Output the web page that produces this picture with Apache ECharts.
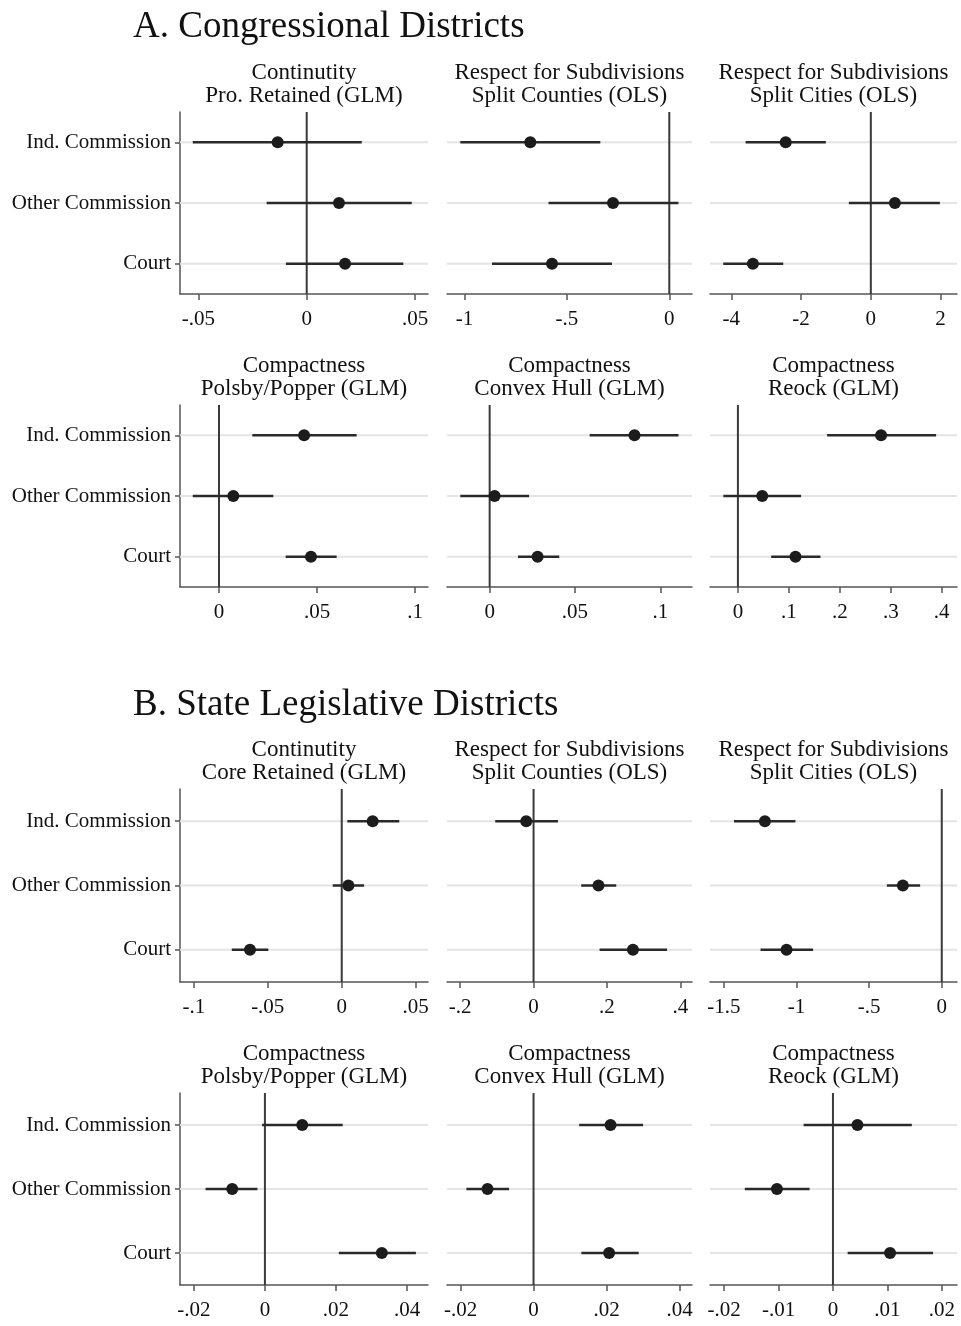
<!DOCTYPE html>
<html><head><meta charset="utf-8">
<script src="https://cdn.jsdelivr.net/npm/echarts@6/dist/echarts.min.js"></script>
<style>html,body{margin:0;padding:0;background:#fff}#c{width:961px;height:1326px}</style>
</head><body><div id="c"></div>
<script>
// ---------- data ----------
const categories = ['Ind. Commission', 'Other Commission', 'Court'];
const sectionTitles = ['A. Congressional Districts', 'B. State Legislative Districts'];

// A. Congressional districts  (order: Ind., Other, Court)
const aContEst = [-0.0134, 0.0149, 0.0177];
const aContLo  = [-0.0526, -0.0185, -0.0096];
const aContHi  = [0.0254, 0.0485, 0.0446];
const aCountyEst = [-0.679, -0.275, -0.573];
const aCountyLo  = [-1.021, -0.590, -0.866];
const aCountyHi  = [-0.337, 0.045, -0.280];
const aCityEst = [-2.44, 0.69, -3.38];
const aCityLo  = [-3.59, -0.63, -4.23];
const aCityHi  = [-1.29, 1.98, -2.51];
const aPolsbyEst = [0.0434, 0.0073, 0.0469];
const aPolsbyLo  = [0.0170, -0.0134, 0.0340];
const aPolsbyHi  = [0.0702, 0.0277, 0.0600];
const aHullEst = [0.0849, 0.0029, 0.0281];
const aHullLo  = [0.0586, -0.0172, 0.0166];
const aHullHi  = [0.1107, 0.0231, 0.0408];
const aReockEst = [0.281, 0.0477, 0.113];
const aReockLo  = [0.175, -0.0286, 0.0653];
const aReockHi  = [0.389, 0.124, 0.162];

// B. State legislative districts
const bContEst = [0.0209, 0.0045, -0.0620];
const bContLo  = [0.0038, -0.0061, -0.0743];
const bContHi  = [0.0389, 0.0151, -0.0496];
const bCountyEst = [-0.020, 0.177, 0.271];
const bCountyLo  = [-0.1045, 0.130, 0.180];
const bCountyHi  = [0.0665, 0.2255, 0.364];
const bCityEst = [-1.218, -0.268, -1.069];
const bCityLo  = [-1.431, -0.378, -1.248];
const bCityHi  = [-1.008, -0.149, -0.886];
const bPolsbyEst = [0.0105, -0.0092, 0.0329];
const bPolsbyLo  = [-0.0008, -0.0167, 0.0208];
const bPolsbyHi  = [0.0219, -0.0021, 0.0425];
const bHullEst = [0.0211, -0.0126, 0.0207];
const bHullLo  = [0.0125, -0.0184, 0.0131];
const bHullHi  = [0.0300, -0.0067, 0.0288];
const bReockEst = [0.0045, -0.0103, 0.0105];
const bReockLo  = [-0.0054, -0.0162, 0.0027];
const bReockHi  = [0.0145, -0.0043, 0.0184];

// tick values
const ticksAcont = [-0.05, 0, 0.05];
const ticksAcounty = [-1, -0.5, 0];
const ticksAcity = [-4, -2, 0, 2];
const ticksApolsby = [0, 0.05, 0.1];
const ticksAhull = [0, 0.05, 0.1];
const ticksAreock = [0, 0.1, 0.2, 0.3, 0.4];
const ticksBcont = [-0.1, -0.05, 0, 0.05];
const ticksBcounty = [-0.2, 0, 0.2, 0.4];
const ticksBcity = [-1.5, -1, -0.5, 0];
const ticksBpolsby = [-0.02, 0, 0.02, 0.04];
const ticksBhull = [-0.02, 0, 0.02, 0.04];
const ticksBreock = [-0.02, -0.01, 0, 0.01, 0.02];

// axis ranges
const rangeAcont = [-0.0585, 0.056];
const rangeAcounty = [-1.086, 0.111];
const rangeAcity = [-4.61, 2.47];
const rangeApolsby = [-0.0199, 0.1066];
const rangeAhull = [-0.025, 0.1186];
const rangeAreock = [-0.0548, 0.430];
const rangeBcont = [-0.1093, 0.0583];
const rangeBcounty = [-0.236, 0.432];
const rangeBcity = [-1.596, 0.105];
const rangeBpolsby = [-0.0239, 0.0459];
const rangeBhull = [-0.0237, 0.0434];
const rangeBreock = [-0.0226, 0.0228];

const panelTitles = [
  ['Continutity', 'Pro. Retained (GLM)'],
  ['Respect for Subdivisions', 'Split Counties (OLS)'],
  ['Respect for Subdivisions', 'Split Cities (OLS)'],
  ['Compactness', 'Polsby/Popper (GLM)'],
  ['Compactness', 'Convex Hull (GLM)'],
  ['Compactness', 'Reock (GLM)'],
  ['Continutity', 'Core Retained (GLM)'],
  ['Respect for Subdivisions', 'Split Counties (OLS)'],
  ['Respect for Subdivisions', 'Split Cities (OLS)'],
  ['Compactness', 'Polsby/Popper (GLM)'],
  ['Compactness', 'Convex Hull (GLM)'],
  ['Compactness', 'Reock (GLM)']
];

const panels = [
  {est: aContEst, lo: aContLo, hi: aContHi, ticks: ticksAcont, range: rangeAcont},
  {est: aCountyEst, lo: aCountyLo, hi: aCountyHi, ticks: ticksAcounty, range: rangeAcounty},
  {est: aCityEst, lo: aCityLo, hi: aCityHi, ticks: ticksAcity, range: rangeAcity},
  {est: aPolsbyEst, lo: aPolsbyLo, hi: aPolsbyHi, ticks: ticksApolsby, range: rangeApolsby},
  {est: aHullEst, lo: aHullLo, hi: aHullHi, ticks: ticksAhull, range: rangeAhull},
  {est: aReockEst, lo: aReockLo, hi: aReockHi, ticks: ticksAreock, range: rangeAreock},
  {est: bContEst, lo: bContLo, hi: bContHi, ticks: ticksBcont, range: rangeBcont},
  {est: bCountyEst, lo: bCountyLo, hi: bCountyHi, ticks: ticksBcounty, range: rangeBcounty},
  {est: bCityEst, lo: bCityLo, hi: bCityHi, ticks: ticksBcity, range: rangeBcity},
  {est: bPolsbyEst, lo: bPolsbyLo, hi: bPolsbyHi, ticks: ticksBpolsby, range: rangeBpolsby},
  {est: bHullEst, lo: bHullLo, hi: bHullHi, ticks: ticksBhull, range: rangeBhull},
  {est: bReockEst, lo: bReockLo, hi: bReockHi, ticks: ticksBreock, range: rangeBreock}
];

// ---------- layout ----------
const colLeft = [180, 447, 710];
const colWidth = [248, 245, 247];
const rowTop = [112, 405, 789, 1093];
const rowHeight = [182, 182, 193, 192];
const titleY = [[73, 96], [366, 389], [750, 773], [1054, 1077]];
const sectionY = [27, 705];

const FONT = '"Liberation Serif", "Times New Roman", serif';
const AXIS_COLOR = '#555';
const TEXT_COLOR = '#111';

function fmt(v) {
  if (v === 0) return '0';
  const s = String(+Number(v).toPrecision(6));
  return s.replace(/^(-?)0\./, '$1.');
}

const grid = [], xAxis = [], yAxis = [], series = [], graphic = [];

sectionTitles.forEach((t, i) => {
  graphic.push({type: 'text', x: 133, y: sectionY[i], silent: true,
    style: {text: t, fill: TEXT_COLOR, fontSize: 37, fontFamily: FONT,
      align: 'left', textAlign: 'left', verticalAlign: 'middle', textVerticalAlign: 'middle'}});
});

panels.forEach((p, k) => {
  const row = Math.floor(k / 3), col = k % 3;
  grid.push({left: colLeft[col], top: rowTop[row], width: colWidth[col], height: rowHeight[row], containLabel: false});
  const cx = colLeft[col] + colWidth[col] / 2;
  panelTitles[k].forEach((line, j) => {
    graphic.push({type: 'text', x: cx, y: titleY[row][j], silent: true,
      style: {text: line, fill: TEXT_COLOR, fontSize: 23, fontFamily: FONT,
        align: 'center', textAlign: 'center', verticalAlign: 'middle', textVerticalAlign: 'middle'}});
  });
  xAxis.push({
    gridIndex: k, type: 'value', min: p.range[0], max: p.range[1],
    axisLine: {show: true, onZero: false, lineStyle: {color: AXIS_COLOR, width: 1.5}},
    axisTick: {show: true, length: 6, customValues: p.ticks, lineStyle: {color: AXIS_COLOR, width: 1.5}},
    axisLabel: {customValues: p.ticks, formatter: fmt, fontSize: 21, fontFamily: FONT, color: TEXT_COLOR, margin: 15},
    splitLine: {show: false}
  });
  const first = col === 0;
  yAxis.push({
    gridIndex: k, type: 'category', data: categories, inverse: true,
    axisLine: {show: first, onZero: false, lineStyle: {color: AXIS_COLOR, width: 1.5}},
    axisTick: {show: first, alignWithLabel: true, length: 5, lineStyle: {color: AXIS_COLOR, width: 1.5}},
    axisLabel: {show: first, fontSize: 21, fontFamily: FONT, color: TEXT_COLOR, margin: 9},
    splitLine: {show: false}
  });
  // gridlines at each category
  series.push({
    type: 'custom', xAxisIndex: k, yAxisIndex: k, z: 1, silent: true,
    data: categories.map((c, i) => [0, i]),
    encode: {x: 0, y: 1},
    renderItem: (params, api) => {
      const cs = params.coordSys;
      const y = api.coord([0, api.value(1)])[1];
      return {type: 'line', shape: {x1: cs.x, y1: y, x2: cs.x + cs.width, y2: y},
        style: {stroke: '#e4e4e4', lineWidth: 2}};
    }
  });
  // zero reference line
  series.push({
    type: 'custom', xAxisIndex: k, yAxisIndex: k, z: 2, silent: true,
    data: [[0, 0]],
    encode: {x: 0, y: 1},
    renderItem: (params, api) => {
      const cs = params.coordSys;
      const x = api.coord([api.value(0), 0])[0];
      return {type: 'line', shape: {x1: x, y1: cs.y, x2: x, y2: cs.y + cs.height},
        style: {stroke: '#3a3a3a', lineWidth: 2}};
    }
  });
  // confidence intervals
  series.push({
    type: 'custom', xAxisIndex: k, yAxisIndex: k, z: 3, silent: true,
    data: categories.map((c, i) => [p.lo[i], p.hi[i], i]),
    encode: {x: [0, 1], y: 2},
    renderItem: (params, api) => {
      const a = api.coord([api.value(0), api.value(2)]);
      const b = api.coord([api.value(1), api.value(2)]);
      return {type: 'line', shape: {x1: a[0], y1: a[1], x2: b[0], y2: b[1]},
        style: {stroke: '#2a2a2a', lineWidth: 2.5}};
    }
  });
  // point estimates
  series.push({
    type: 'scatter', xAxisIndex: k, yAxisIndex: k, z: 4, silent: true,
    symbol: 'circle', symbolSize: 12,
    itemStyle: {color: '#1c1c1c', opacity: 1},
    data: categories.map((c, i) => [p.est[i], i])
  });
});

const chart = echarts.init(document.getElementById('c'), null, {renderer: 'canvas'});
chart.setOption({
  backgroundColor: '#fff',
  animation: false,
  textStyle: {fontFamily: FONT},
  grid, xAxis, yAxis, series, graphic
});
</script>
</body></html>
